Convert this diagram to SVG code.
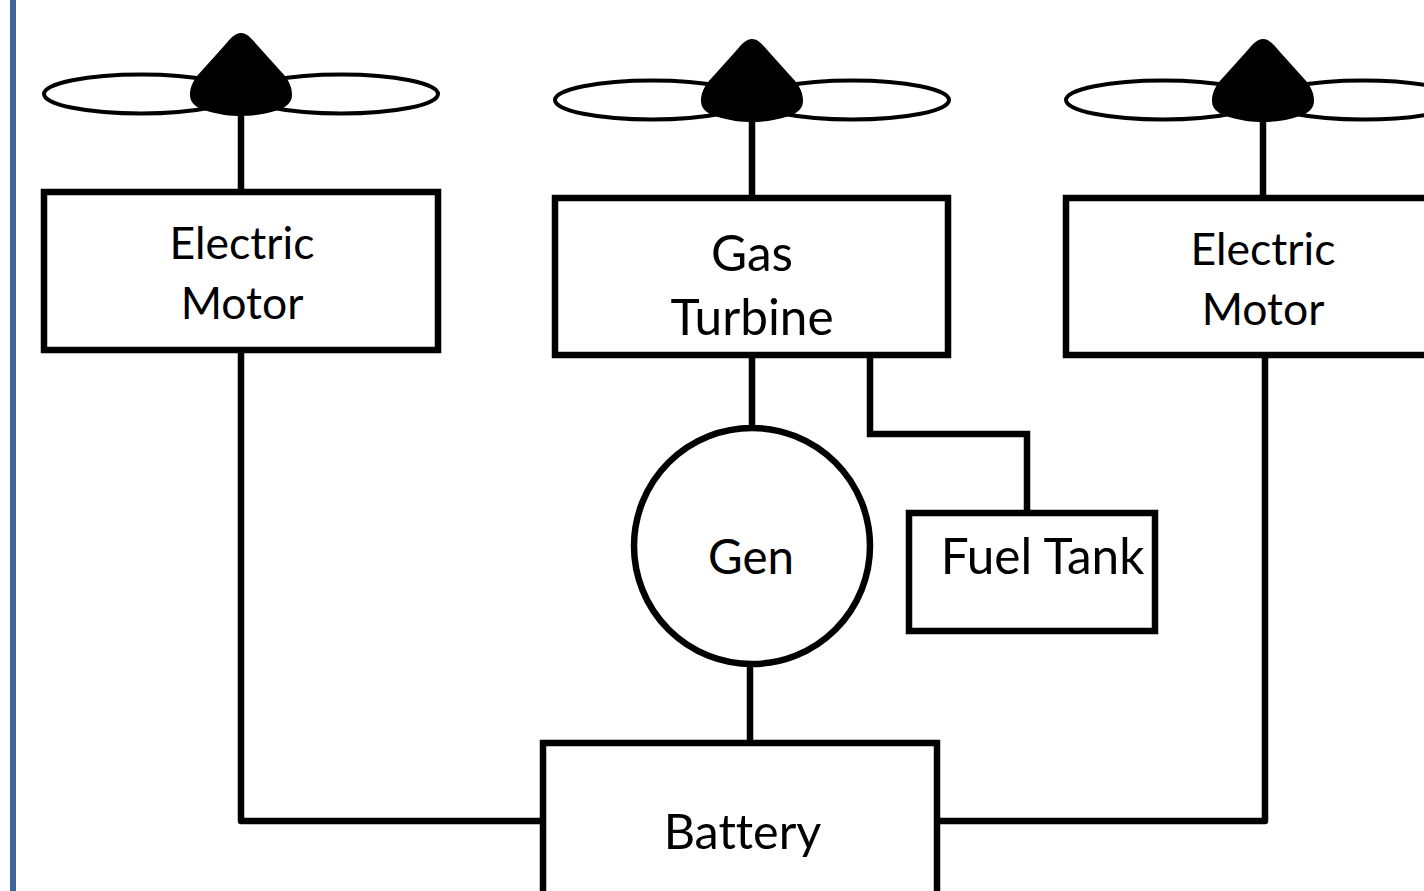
<svg xmlns="http://www.w3.org/2000/svg" width="1424" height="891" viewBox="0 0 1424 891">
<style>
.b{fill:#fff;stroke:#000;stroke-width:6.500}
.l{fill:none;stroke:#000;stroke-width:6.500;stroke-linejoin:miter;stroke-linecap:butt}
.r{stroke-linejoin:round;stroke-linecap:round}
.bl{fill:#fff;stroke:#000;stroke-width:4}
.h{fill:#000;stroke:none}
text{font-family:Lato,"Open Sans",sans-serif;font-size:49.500px;fill:#000;text-anchor:middle;font-variant-ligatures:none}
.s{font-size:44.500px}
.g{font-size:47.500px}
.t{font-size:48.500px}
</style>
<defs>
<g id="prop">
<ellipse class="bl" cx="-100" cy="0" rx="97" ry="19.500"/>
<ellipse class="bl" cx="100" cy="0" rx="97" ry="19.500"/>
<path class="h" d="M0,-61 C6,-61 10,-56 17,-48 L44,-18 C50,-10 51,-4 51,1 C51,8 46,13 37,16 C22,21 10,22 0,22 C-10,22 -22,21 -37,16 C-46,13 -51,8 -51,1 C-51,-4 -50,-10 -44,-18 L-17,-48 C-10,-56 -6,-61 0,-61Z"/>
</g>
</defs>
<rect width="1424" height="891" fill="#fff"/>
<rect x="10" y="0" width="6" height="891" fill="#41659a"/>
<g id="connectors">
<path class="l" d="M241,105V192"/><path class="l" d="M752,110V198"/><path class="l" d="M1263,110V198"/>
<path class="l r" d="M241,350V821H543"/><path class="l r" d="M1265,355V821H937"/>
<path class="l" d="M752,355V428"/><path class="l" d="M750,664V743"/>
<path class="l" d="M870,355V434H1027V512"/>
</g>
<g id="prop1"><use href="#prop" x="241" y="94"/></g>
<g id="prop2"><use href="#prop" x="752" y="100"/></g>
<g id="prop3"><use href="#prop" x="1263" y="100"/></g>
<g id="motor1"><rect class="b" x="44" y="192" width="394" height="158"/><text class="s" x="242" y="259">Electric</text><text class="s" x="242" y="319">Motor</text></g>
<g id="turbine"><rect class="b" x="555" y="198" width="393" height="157"/><text x="752" y="271">Gas</text><text x="752" y="335">Turbine</text></g>
<g id="motor2"><rect class="b" x="1066" y="198" width="394" height="157"/><text class="s" x="1263" y="265">Electric</text><text class="s" x="1263" y="325">Motor</text></g>
<g id="gen"><circle class="b" cx="752" cy="546" r="118"/><text class="g" x="751" y="574">Gen</text></g>
<g id="tank"><rect class="b" x="909" y="513" width="246" height="118"/><text x="1042.500" y="574">Fuel Tank</text></g>
<g id="battery"><rect class="b" x="543" y="743" width="394" height="160"/><text class="t" x="742.500" y="849">Battery</text></g>
</svg>
